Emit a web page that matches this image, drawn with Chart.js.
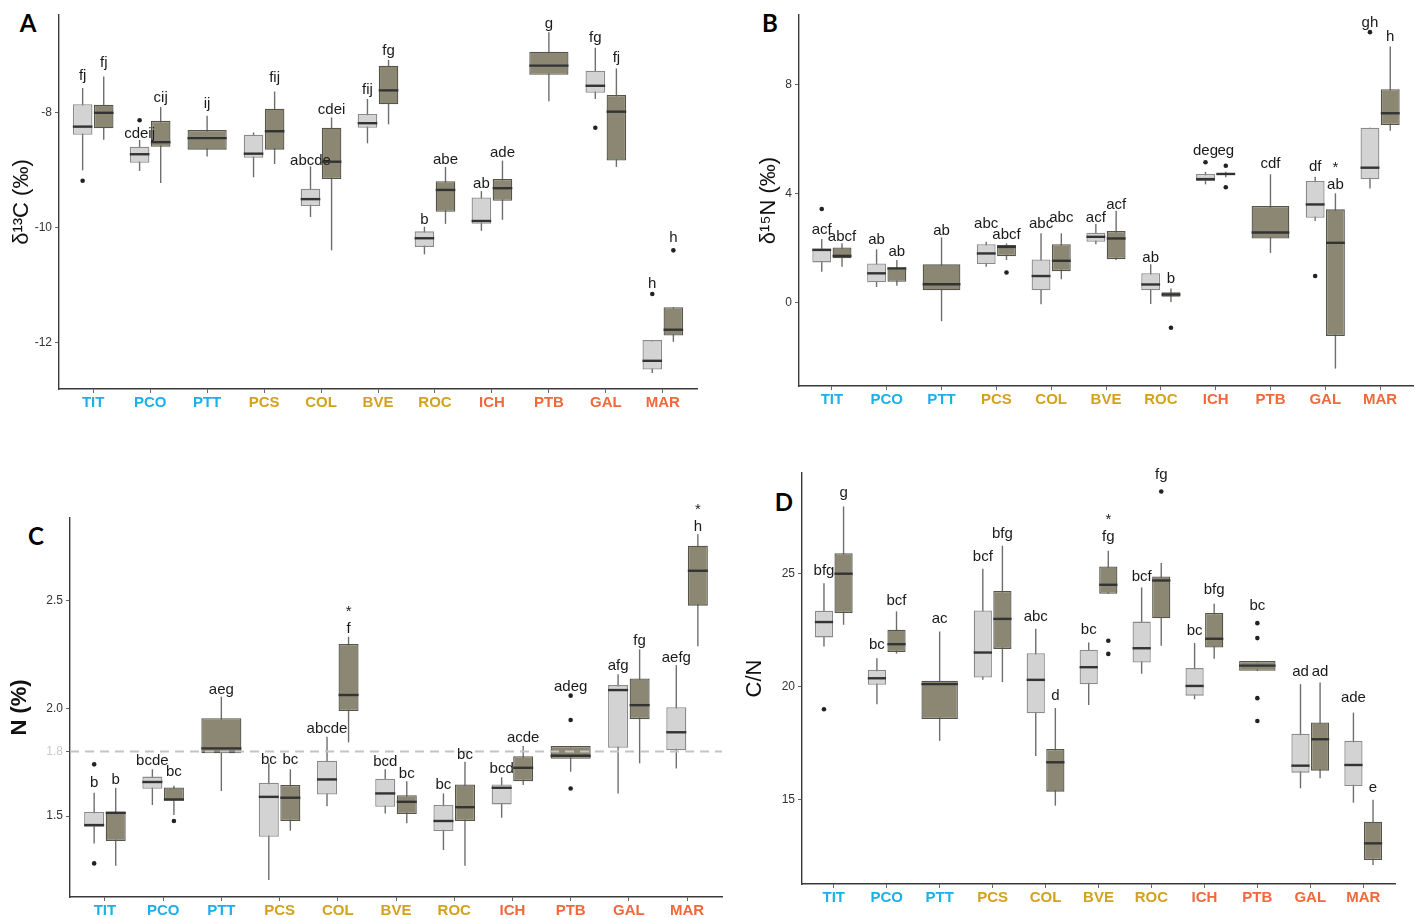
<!DOCTYPE html>
<html>
<head>
<meta charset="utf-8">
<script src="https://cdn.jsdelivr.net/npm/chart.js@4.4.1/dist/chart.umd.min.js"></script>
<style>
  body { margin: 0; background: #fff; width: 1420px; height: 918px; overflow: hidden; position: relative; }
  canvas { position: absolute; }
  .panel-tag { position: absolute; font: bold 24px Lato, "Open Sans", sans-serif; color: #000; transform: translate(-50%, -50%); }
</style>
</head>
<body>
<div class="panel-tag" style="left:28px;top:22px">A</div>
<div class="panel-tag" style="left:770px;top:22px">B</div>
<div class="panel-tag" style="left:36px;top:535px">C</div>
<div class="panel-tag" style="left:784px;top:501px">D</div>
<canvas id="chartA" width="710" height="420" style="left:0;top:0"></canvas>
<canvas id="chartB" width="690" height="420" style="left:730px;top:0"></canvas>
<canvas id="chartC" width="730" height="448" style="left:0;top:470px"></canvas>
<canvas id="chartD" width="690" height="468" style="left:730px;top:450px"></canvas>
<script>
// Sites along the x axis, and the colour group each label belongs to
var categories = ['TIT', 'PCO', 'PTT', 'PCS', 'COL', 'BVE', 'ROC', 'ICH', 'PTB', 'GAL', 'MAR'];
var categoryGroup = [0, 0, 0, 1, 1, 1, 1, 2, 2, 2, 2];

// Each box is [lower whisker, Q1, median, Q3, upper whisker]; null = no box
// --- A: d13C
var aLight = [[-9.00, -8.38, -8.24, -7.85, -7.57], [-9.01, -8.87, -8.72, -8.59, -8.47], null,
  [-9.12, -8.78, -8.71, -8.38, -8.34], [-9.81, -9.62, -9.50, -9.32, -8.93], [-8.53, -8.26, -8.18, -8.02, -7.76],
  [-10.46, -10.33, -10.18, -10.06, -9.98], [-10.05, -9.93, -9.88, -9.47, -9.36], null,
  [-7.76, -7.65, -7.53, -7.27, -6.87], [-12.52, -12.46, -12.31, -11.95, -11.95]];
var aDark = [[-8.47, -8.27, -8.00, -7.86, -7.37], [-9.22, -8.59, -8.51, -8.14, -7.90], [-8.76, -8.64, -8.44, -8.30, -8.05],
  [-8.89, -8.64, -8.32, -7.93, -7.63], [-10.39, -9.15, -8.85, -8.26, -8.08], [-8.20, -7.85, -7.61, -7.18, -7.08],
  [-9.93, -9.72, -9.34, -9.19, -8.94], [-9.86, -9.53, -9.31, -9.15, -8.83], [-7.80, -7.34, -7.18, -6.94, -6.60],
  [-8.94, -8.83, -7.98, -7.69, -7.23], [-11.98, -11.87, -11.77, -11.38, -11.38]];
var aLightOut = [[-9.18], [-8.13], [], [], [], [], [], [], [], [-8.26], [-11.15]];
var aDarkOut = [[], [], [], [], [], [], [], [], [], [], [-10.39]];
var aLightTag = ['fj', 'cdeij', '', '', 'abcde', 'fij', 'b', 'ab', '', 'fg', 'h'];
var aLightTagY = [-7.36, -8.37, null, null, -8.84, -7.60, -9.86, -9.24, null, -6.70, -10.98];
var aDarkTag = ['fj', 'cij', 'ij', 'fij', 'cdei', 'fg', 'abe', 'ade', 'g', 'fj', 'h'];
var aDarkTagY = [-7.14, -7.74, -7.84, -7.39, -7.95, -6.93, -8.81, -8.69, -6.45, -7.05, -10.18];
var aTicks = [-12, -10, -8];

// --- B: d15N
var bLight = [[1.13, 1.47, 1.93, 1.98, 2.33], [0.57, 0.74, 1.07, 1.43, 1.95], null,
  [1.31, 1.41, 1.80, 2.14, 2.23], [-0.07, 0.45, 0.97, 1.58, 2.54], [2.14, 2.23, 2.41, 2.56, 2.88],
  [-0.06, 0.45, 0.66, 1.07, 1.40], [4.34, 4.46, 4.53, 4.72, 4.80], null,
  [2.99, 3.11, 3.60, 4.46, 4.62], [4.19, 4.53, 4.95, 6.42, 6.42]];
var bDark = [[1.31, 1.62, 1.71, 2.02, 2.17], [0.61, 0.76, 1.25, 1.27, 1.56], [-0.69, 0.45, 0.67, 1.40, 2.39],
  [1.56, 1.70, 2.04, 2.11, 2.17], [0.85, 1.15, 1.53, 2.14, 2.54], [1.56, 1.59, 2.35, 2.62, 3.37],
  [0.02, 0.21, 0.29, 0.37, 0.51], [4.60, 4.68, 4.72, 4.74, 4.80], [1.82, 2.35, 2.57, 3.54, 4.71],
  [-2.43, -1.23, 2.19, 3.42, 4.01], [6.31, 6.52, 6.95, 7.83, 9.40]];
var bLightOut = [[3.43], [], [], [], [], [], [], [5.15], [], [0.97], [9.93]];
var bDarkOut = [[], [], [], [1.10], [], [], [-0.93], [5.02, 4.23], [], [], []];
var bLightTag = ['acf', 'ab', '', 'abc', 'abc', 'acf', 'ab', 'deg', '', 'df', 'gh'];
var bLightTagY = [2.66, 2.29, null, 2.87, 2.87, 3.12, 1.62, 5.56, null, 4.99, 10.28];
var bDarkTag = ['abcf', 'ab', 'ab', 'abcf', 'abc', 'acf', 'b', 'eg', 'cdf', '*\nab', 'h'];
var bDarkTagY = [2.41, 1.86, 2.63, 2.47, 3.11, 3.60, 0.88, 5.56, 5.08, 4.31, 9.76];
var bTicks = [0, 4, 8];

// --- C: N (%)
var cLight = [[1.373, 1.450, 1.458, 1.519, 1.608], [1.551, 1.627, 1.658, 1.683, 1.717], null,
  [1.203, 1.404, 1.589, 1.654, 1.745], [1.546, 1.600, 1.670, 1.757, 1.868], [1.512, 1.543, 1.605, 1.673, 1.717],
  [1.342, 1.430, 1.477, 1.551, 1.605], [1.492, 1.554, 1.631, 1.647, 1.680], null,
  [1.605, 1.817, 2.085, 2.108, 2.158], [1.721, 1.806, 1.889, 2.005, 2.201]];
var cDark = [[1.269, 1.384, 1.515, 1.520, 1.631], [1.505, 1.571, 1.577, 1.633, 1.641], [1.616, 1.791, 1.814, 1.954, 2.054],
  [1.432, 1.477, 1.585, 1.644, 1.717], [1.842, 1.988, 2.062, 2.299, 2.333], [1.466, 1.509, 1.566, 1.597, 1.662],
  [1.269, 1.477, 1.541, 1.647, 1.752], [1.644, 1.662, 1.724, 1.778, 1.825], [1.706, 1.766, 1.780, 1.825, 1.825],
  [1.745, 1.950, 2.015, 2.139, 2.274], [2.289, 2.477, 2.639, 2.755, 2.808]];
var cLightOut = [[1.740, 1.280], [], [], [], [], [], [], [], [], [], []];
var cDarkOut = [[], [1.477], [], [], [], [], [], [], [2.059, 1.946, 1.628], [], []];
var cLightTag = ['b', 'bcde', '', 'bc', 'abcde', 'bcd', 'bc', 'bcd', '', 'afg', 'aefg'];
var cLightTagY = [1.654, 1.757, null, 1.763, 1.907, 1.752, 1.644, 1.721, null, 2.196, 2.235];
var cDarkTag = ['b', 'bc', 'aeg', 'bc', '*\nf', 'bc', 'bc', 'acde', 'adeg', 'fg', '*\nh'];
var cDarkTagY = [1.670, 1.706, 2.088, 1.763, 2.367, 1.698, 1.783, 1.863, 2.100, 2.314, 2.843];
var cTicks = [1.5, 1.8, 2.0, 2.5];
var cRefLine = 1.8;

// --- D: C/N
var dLight = [[21.79, 22.19, 22.87, 23.37, 24.59], [19.23, 20.09, 20.38, 20.75, 21.27], null,
  [20.31, 20.41, 21.52, 23.38, 25.23], [16.94, 18.83, 20.31, 21.49, 22.57], [19.20, 20.12, 20.87, 21.64, 21.96],
  [20.58, 21.08, 21.71, 22.89, 24.40], [19.45, 19.61, 20.04, 20.83, 21.94], null,
  [15.51, 16.20, 16.51, 17.92, 20.12], [14.87, 15.61, 16.54, 17.61, 18.86]];
var dDark = [[22.75, 23.27, 25.01, 25.92, 27.99], [21.47, 21.54, 21.89, 22.53, 23.34], [17.61, 18.58, 20.12, 20.27, 22.45],
  [20.21, 21.68, 23.01, 24.25, 26.25], [14.74, 15.36, 16.66, 17.25, 19.06], [24.12, 24.12, 24.52, 25.33, 26.03],
  [21.82, 23.04, 24.71, 24.89, 25.48], [21.24, 21.74, 22.13, 23.27, 23.68], [20.71, 20.71, 20.94, 21.15, 21.15],
  [15.95, 16.29, 17.68, 18.42, 20.19], [12.11, 12.33, 13.07, 14.03, 15.00]];
var dLightOut = [[19.01], [], [], [], [], [], [], [], [], [], []];
var dDarkOut = [[], [], [], [], [], [22.04, 21.46], [28.65], [], [22.82, 22.16, 19.50, 18.49], [], []];
var dLightTag = ['bfg', 'bc', '', 'bcf', 'abc', 'bc', 'bcf', 'bc', '', 'ad', 'ade'];
var dLightTagY = [25.15, 21.86, null, 25.75, 23.11, 22.53, 24.89, 22.50, null, 20.68, 19.50];
var dDarkTag = ['g', 'bcf', 'ac', 'bfg', 'd', '*\nfg', 'fg', 'bfg', 'bc', 'ad', 'e'];
var dDarkTagY = [28.61, 23.82, 23.0, 26.77, 19.61, 26.66, 29.39, 24.30, 23.60, 20.68, 15.54];
var dTicks = [15, 20, 25];

var groupColors = ['#1cb0ea', '#d3a11c', '#f0683b'];
var FONT = '"Liberation Sans", Arial, sans-serif';

function toBars(stats) {
  return stats.map(function(s, i) {
    return { x: i + 1, y: s ? [s[1], s[3]] : null };
  });
}

// whiskers, medians, outliers and letter tags, placed with the chart's own scales
function boxExtras(stats, outs, tags, tagY, refLine) {
  return {
    id: 'boxExtras',
    beforeDatasetsDraw: function(chart) {
      var ctx = chart.ctx, yScale = chart.scales.y;
      ctx.save();
      ctx.strokeStyle = '#6e6e6e';
      ctx.lineWidth = 1.4;
      stats.forEach(function(series, d) {
        var meta = chart.getDatasetMeta(d);
        series.forEach(function(s, i) {
          if (!s) return;
          var x = meta.data[i].x;
          ctx.beginPath();
          ctx.moveTo(x, yScale.getPixelForValue(s[0]));
          ctx.lineTo(x, yScale.getPixelForValue(s[4]));
          ctx.stroke();
        });
      });
      ctx.restore();
    },
    afterDatasetsDraw: function(chart) {
      var ctx = chart.ctx, yScale = chart.scales.y, area = chart.chartArea;
      ctx.save();
      if (refLine != null) {
        var ry = yScale.getPixelForValue(refLine);
        ctx.strokeStyle = '#c4c4c4';
        ctx.lineWidth = 2;
        ctx.setLineDash([9, 6]);
        ctx.beginPath();
        ctx.moveTo(area.left, ry);
        ctx.lineTo(area.right, ry);
        ctx.stroke();
        ctx.setLineDash([]);
      }
      ctx.font = '15px ' + FONT;
      ctx.textAlign = 'center';
      ctx.textBaseline = 'middle';
      stats.forEach(function(series, d) {
        var meta = chart.getDatasetMeta(d);
        series.forEach(function(s, i) {
          var bar = meta.data[i];
          var x = bar.x;
          if (s) {
            var my = yScale.getPixelForValue(s[2]);
            ctx.strokeStyle = '#333';
            ctx.lineWidth = 2.4;
            ctx.beginPath();
            ctx.moveTo(x - bar.width / 2, my);
            ctx.lineTo(x + bar.width / 2, my);
            ctx.stroke();
          }
          ctx.fillStyle = '#222';
          (outs[d][i] || []).forEach(function(v) {
            ctx.beginPath();
            ctx.arc(x, yScale.getPixelForValue(v), 2.3, 0, Math.PI * 2);
            ctx.fill();
          });
          var t = tags[d][i];
          if (t && tagY[d][i] != null) {
            var ty = yScale.getPixelForValue(tagY[d][i]);
            var lines = t.split('\n');
            ctx.fillStyle = '#1a1a1a';
            lines.forEach(function(line, j) {
              ctx.fillText(line, x, ty - (lines.length - 1 - j) * 17);
            });
          }
        });
      });
      ctx.restore();
    }
  };
}

function makeChart(id, p) {
  return new Chart(document.getElementById(id), {
    type: 'bar',
    data: {
      datasets: [
        { data: toBars(p.stats[0]), backgroundColor: '#d3d3d3', borderColor: '#8a8a8a' },
        { data: toBars(p.stats[1]), backgroundColor: '#8b8772', borderColor: '#56554c' }
      ]
    },
    options: {
      responsive: false,
      animation: false,
      layout: { padding: p.pad },
      datasets: {
        bar: { skipNull: true, borderWidth: 1.3, borderSkipped: false, categoryPercentage: 0.74, barPercentage: 0.93 }
      },
      plugins: { legend: { display: false }, tooltip: { enabled: false } },
      scales: {
        x: {
          type: 'linear', min: 0.4, max: 11.6, offset: false, bounds: 'data',
          afterBuildTicks: function(s) { s.ticks = categories.map(function(c, i) { return { value: i + 1 }; }); },
          afterFit: function(s) { s.height = p.xHeight; },
          ticks: {
            autoSkip: false, maxRotation: 0, padding: 1,
            font: { family: FONT, size: 15, weight: 'bold' },
            color: function(c) { return groupColors[categoryGroup[c.index]]; },
            callback: function(v, i) { return categories[i]; }
          },
          grid: { display: true, drawOnChartArea: false, offset: false, tickLength: 4, color: '#666' },
          border: { display: true, color: '#3a3a3a', width: 1.4 }
        },
        y: {
          type: 'linear', min: p.yMin, max: p.yMax,
          afterBuildTicks: function(s) { s.ticks = p.yTicks.map(function(v) { return { value: v }; }); },
          afterFit: function(s) { s.width = p.yWidth; },
          ticks: {
            padding: 3,
            font: { family: FONT, size: 12 },
            color: function(c) { return (p.refLine != null && c.tick && c.tick.value === p.refLine) ? '#c8c8c8' : '#333'; },
            callback: function(v) { return p.decimals ? v.toFixed(p.decimals) : String(v); }
          },
          grid: { display: true, drawOnChartArea: false, tickLength: 4, color: '#666' },
          border: { display: true, color: '#3a3a3a', width: 1.4 },
          title: {
            display: true, text: p.title, color: '#111',
            font: { family: FONT, size: 22, weight: p.titleBold ? 'bold' : 'normal' },
            padding: { top: p.titlePad, bottom: 0 }
          }
        }
      }
    },
    plugins: [boxExtras(p.stats, p.outs, p.tags, p.tagY, p.refLine)]
  });
}

makeChart('chartA', {
  stats: [aLight, aDark], outs: [aLightOut, aDarkOut], tags: [aLightTag, aDarkTag], tagY: [aLightTagY, aDarkTagY],
  yTicks: aTicks, yMin: -12.8, yMax: -6.3, title: 'δ¹³C (‰)', titlePad: 9,
  pad: { top: 15, right: 13, left: 0, bottom: 0 }, yWidth: 59, xHeight: 31
});
makeChart('chartB', {
  stats: [bLight, bDark], outs: [bLightOut, bDarkOut], tags: [bLightTag, bDarkTag], tagY: [bLightTagY, bDarkTagY],
  yTicks: bTicks, yMin: -3.07, yMax: 10.56, title: 'δ¹⁵N (‰)', titlePad: 26,
  pad: { top: 15, right: 7, left: 0, bottom: 0 }, yWidth: 69, xHeight: 34
});
makeChart('chartC', {
  stats: [cLight, cDark], outs: [cLightOut, cDarkOut], tags: [cLightTag, cDarkTag], tagY: [cLightTagY, cDarkTagY],
  yTicks: cTicks, yMin: 1.124, yMax: 2.884, decimals: 1, refLine: cRefLine, title: 'N (%)', titleBold: true, titlePad: 7,
  pad: { top: 48, right: 8, left: 0, bottom: 0 }, yWidth: 70, xHeight: 21
});
makeChart('chartD', {
  stats: [dLight, dDark], outs: [dLightOut, dDarkOut], tags: [dLightTag, dDarkTag], tagY: [dLightTagY, dDarkTagY],
  yTicks: dTicks, yMin: 11.27, yMax: 29.47, title: 'C/N', titlePad: 12,
  pad: { top: 23, right: 25, left: 0, bottom: 0 }, yWidth: 72, xHeight: 34
});
</script>
</body>
</html>
